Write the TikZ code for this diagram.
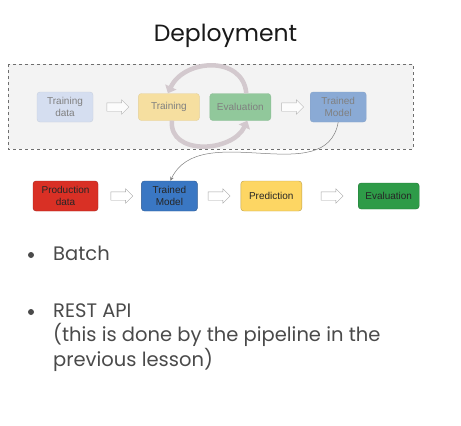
\documentclass[tikz,border=0pt]{standalone}
\usepackage{fontspec}
\setmainfont{Poppins}
\newfontfamily\boxfont{Liberation Sans}
\usepackage{tikz}
\usetikzlibrary{positioning, calc, shapes.arrows, arrows.meta}

\definecolor{frameGray}{HTML}{6E6E6E}
\definecolor{panelGray}{HTML}{F3F3F3}
\definecolor{fadeText}{HTML}{808080}
\definecolor{bulletText}{HTML}{4A4A4A}
\definecolor{loopGray}{HTML}{D3C9CE}
\definecolor{gBlueL}{HTML}{D5DEF0}
\definecolor{gYellowL}{HTML}{F6DFA0}
\definecolor{gGreenL}{HTML}{91C89B}
\definecolor{gBlueM}{HTML}{8AAAD5}
\definecolor{gRed}{HTML}{D93025}
\definecolor{gBlue}{HTML}{3A77C3}
\definecolor{gYellow}{HTML}{FDD663}
\definecolor{gGreen}{HTML}{2E9B48}

\begin{document}
\begin{tikzpicture}[
    x=1pt, y=-1pt,
    stage/.style={rectangle, draw=#1!75!black, fill=#1, rounded corners=3pt,
                  align=center, inner sep=1pt, minimum width=61pt, minimum height=30pt,
                  text=black!85, font=\boxfont\fontsize{10}{11.5}\selectfont},
    faded/.style={stage=#1, draw=#1!85!gray, text=fadeText},
    hollow/.style={single arrow, draw=gray!70, fill=white, inner sep=4pt,
                   minimum height=22pt, minimum width=14pt,
                   single arrow head extend=3pt, single arrow head indent=0pt},
    loop/.style={draw=loopGray, line width=4.5pt,
                 -{Triangle[width=12pt, length=7pt]}},
    link/.style={draw=gray, line width=0.5pt, -{Stealth[length=4pt, width=3.5pt]}},
    bullet/.style={circle, fill=bulletText, inner sep=0pt, minimum size=6pt},
    listtext/.style={anchor=base west, text=bulletText, inner sep=0pt,
                     font=\fontsize{19.5}{22.5}\selectfont},
  ]
  \useasboundingbox (0,0) rectangle (461,426);

  % title
  \node[anchor=base, font=\fontsize{23.5}{28}\selectfont, text=black!90] (title)
       at (225.5,41) {Deployment};

  % training pipeline panel
  \draw[frameGray, fill=panelGray, dashed, line width=0.8pt] (8,64) rectangle (413,149);

  \node[faded=gBlueL, minimum width=56pt] (tdata) at (65,107) {Training\\data};
  \node[faded=gYellowL, minimum height=27pt, right=45pt of tdata] (train) {Training};
  \node[faded=gGreenL, minimum height=27pt, right=10pt of train] (teval) {Evaluation};
  \node[faded=gBlueM, minimum width=56pt, right=39pt of teval] (tmodel) {Trained\\Model};

  \node[hollow, opacity=0.8] (a1) at ($(tdata.east)!0.5!(train.west)$) {};
  \node[hollow, opacity=0.8] (a2) at ($(teval.east)!0.5!(tmodel.west)$) {};

  \draw[loop] ([xshift=6pt]teval.north) to[out=95, in=65, looseness=1.25]
       ([xshift=-1pt]train.north);
  \draw[loop] ([xshift=3pt]train.south) to[out=-95, in=-115, looseness=1.2]
       ([xshift=7pt]teval.south);

  % serving pipeline
  \node[stage=gRed, minimum width=65pt] (pdata) at (65.5,196) {Production\\data};
  \node[stage=gBlue, minimum width=56pt, right=43pt of pdata] (smodel) {Trained\\Model};
  \node[stage=gYellow, right=43pt of smodel] (pred) {Prediction};
  \node[stage=gGreen, minimum height=26pt, right=56pt of pred] (seval) {Evaluation};

  \node[hollow] (b1) at ($(pdata.east)!0.5!(smodel.west)$) {};
  \node[hollow] (b2) at ($(smodel.east)!0.45!(pred.west)$) {};
  \node[hollow] (b3) at ($(pred.east)!0.5!(seval.west)$) {};

  \draw[link] (tmodel.south) to[out=-100, in=65] ([xshift=1pt]smodel.north);

  % deployment modes
  \node[bullet] (d1) at (31,255) {};
  \node[listtext] (batch) at (53,260) {Batch};
  \node[bullet] (d2) at (31,312) {};
  \node[listtext] (rest) at (53,317)
       {\begin{tabular}[t]{@{}l@{}}REST API\\(this is done by the pipeline in the\\
        previous lesson)\end{tabular}};
\end{tikzpicture}
\end{document}
